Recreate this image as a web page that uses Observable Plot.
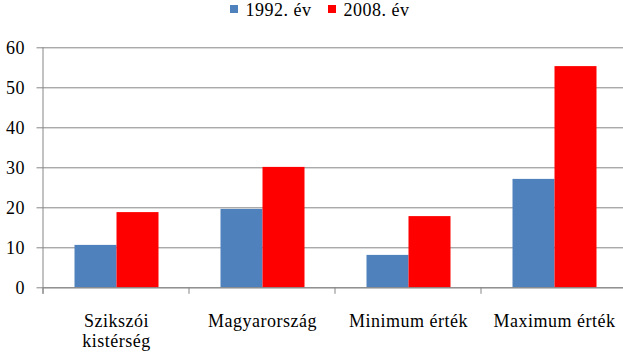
<!DOCTYPE html>
<html>
<head>
<meta charset="utf-8">
<script src="https://cdn.jsdelivr.net/npm/d3@7"></script>
<script src="https://cdn.jsdelivr.net/npm/@observablehq/plot@0.6"></script>
<style>
  html, body { margin: 0; padding: 0; background: #fff; }
  body { width: 623px; height: 352px; overflow: hidden; }
  #legend { height: 20px; display: flex; justify-content: center; align-items: center; padding-left: 16px; font-size: 18px; line-height: 20px; letter-spacing: 0.5px; color: #000; }
  .item { display: flex; align-items: center; margin: 0 8px; }
  .sw { width: 8px; height: 8px; margin-right: 8px; margin-top: -3px; }
</style>
</head>
<body>
<div id="legend"></div>
<div id="chart"></div>
<script>
const categories = ["Szikszói\nkistérség", "Magyarország", "Minimum érték", "Maximum érték"];
const series = ["1992. év", "2008. év"];
const values1992 = [10.6, 19.6, 8.1, 27.1];
const values2008 = [18.8, 30.1, 17.8, 55.3];
const colors = ["#4F81BD", "#FF0000"];
const yTicks = [0, 10, 20, 30, 40, 50, 60];
const FONT = "'Liberation Serif', 'Times New Roman', Tinos, serif";

const data = [];
categories.forEach((c, i) => {
  data.push({category: c, series: series[0], value: values1992[i]});
  data.push({category: c, series: series[1], value: values2008[i]});
});

// legend
const legend = document.getElementById("legend");
legend.style.setProperty("font-family", FONT, "important");
series.forEach((s, i) => {
  const it = document.createElement("div");
  it.className = "item";
  const sw = document.createElement("div");
  sw.className = "sw";
  sw.style.background = colors[i];
  const t = document.createElement("span");
  t.textContent = s;
  t.style.setProperty("font-family", FONT, "important");
  it.appendChild(sw); it.appendChild(t);
  legend.appendChild(it);
});

const gray = "#868686";
const chart = Plot.plot({
  width: 623,
  height: 332,
  marginTop: 27.3,
  marginBottom: 64.7,
  marginLeft: 42.5,
  marginRight: 0,
  style: {fontFamily: FONT, fontSize: "18px", background: "#fff", color: "#000", overflow: "visible"},
  fx: {domain: categories, range: [42.5, 627.3], padding: 0, label: null, axis: null},
  x: {domain: series, paddingInner: 0, paddingOuter: 0.738, axis: null},
  y: {domain: [0, 60], axis: null, label: null},
  color: {domain: series, range: colors},
  marks: [
    Plot.gridY(yTicks, {stroke: gray, strokeOpacity: 1, strokeWidth: 1}),
    Plot.barY(data, {fx: "category", x: "series", y: "value", fill: "series"}),
    Plot.ruleY([0], {stroke: gray, strokeWidth: 1}),
    Plot.axisY(yTicks, {tickSize: 6.5, tickPadding: 12, stroke: gray, fontSize: 18, label: null, tickFormat: d => String(d)}),
    Plot.axisFx({anchor: "bottom", tickSize: 0, tickPadding: 25, fontSize: 18, lineHeight: 1.11, label: null})
  ]
});
chart.style.setProperty("font-family", FONT, "important");
document.getElementById("chart").appendChild(chart);

// y-axis line and category boundary ticks drawn from the plot's own scales
const y = chart.scale("y");
const fx = chart.scale("fx");
const svg = d3.select(chart);
svg.selectAll("text, tspan").each(function() {
  this.style.setProperty("font-family", FONT, "important");
  this.style.setProperty("letter-spacing", "0.5px");
});
const y0 = y.apply(0), yTop = y.apply(60);
const x0 = fx.apply(categories[0]);
const g = svg.append("g").attr("stroke", gray).attr("stroke-width", 1);
g.append("line").attr("x1", x0).attr("x2", x0).attr("y1", yTop).attr("y2", y0 + 6.5);
categories.forEach(c => {
  const xb = fx.apply(c);
  g.append("line").attr("x1", xb).attr("x2", xb).attr("y1", y0).attr("y2", y0 + 6.5);
});
</script>
</body>
</html>
